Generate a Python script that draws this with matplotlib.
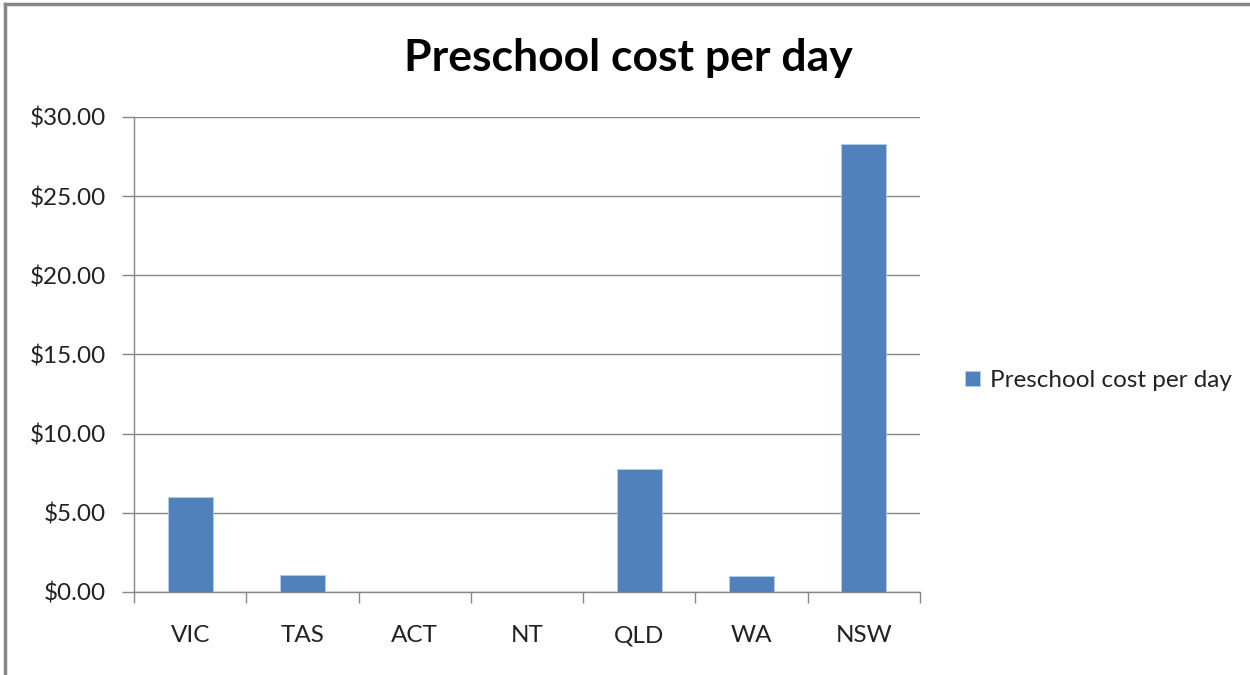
import matplotlib.pyplot as plt
from matplotlib.lines import Line2D
from matplotlib.ticker import FuncFormatter, FixedLocator

plt.rcParams['font.family'] = ['Lato', 'DejaVu Sans']

states = ['VIC', 'TAS', 'ACT', 'NT', 'QLD', 'WA', 'NSW']
cost = [6.00, 1.05, 0.0, 0.0, 7.77, 1.00, 28.28]
yticks = [0, 5, 10, 15, 20, 25, 30]

grey = '#868686'
blue = '#4F81BD'

fig = plt.figure(figsize=(12.5, 6.75), dpi=100)
ax = fig.add_axes([0.1072, 0.1230, 0.736 - 0.1072, 0.8267 - 0.1230])

x = range(len(states))
ax.bar(x, cost, width=0.4, color=blue, edgecolor='#B9CDE5', linewidth=0.6,
       label='Preschool cost per day', zorder=3)

ax.set_xlim(-0.5, len(states) - 0.5)
ax.set_ylim(0, 30)
ax.set_yticks(yticks)
ax.yaxis.set_major_formatter(FuncFormatter(lambda v, p: '${:.2f}'.format(v)))
ax.set_xticks(list(x))
ax.set_xticklabels(states)
ax.xaxis.set_minor_locator(FixedLocator([i - 0.5 for i in range(len(states) + 1)]))

ax.tick_params(axis='x', which='major', length=0, pad=24, labelsize=17.5, colors='#222222')
ax.tick_params(axis='x', which='minor', length=8, width=1, color=grey, direction='out')
ax.tick_params(axis='y', length=9, width=1, color=grey, pad=11, labelsize=17.5, labelcolor='#222222')

ax.grid(axis='y', color=grey, linewidth=1, zorder=0)
for s in ['top', 'right']:
    ax.spines[s].set_visible(False)
for s in ['left', 'bottom']:
    ax.spines[s].set_color(grey)
    ax.spines[s].set_linewidth(1)

fig.text(0.503, 0.914, 'Preschool cost per day', ha='center', va='center',
         fontsize=32, fontweight='bold', color='black')

ax.legend(loc='center left', bbox_to_anchor=(1.03, 0.445), frameon=False,
          fontsize=17.5, handlelength=0.6, handleheight=0.6, handletextpad=0.4,
          labelcolor='#222222')

# outer chart border (top and left edges visible)
fig.add_artist(Line2D([0.004, 0.004], [0, 0.994], color=grey, linewidth=2.5, transform=fig.transFigure))
fig.add_artist(Line2D([0.004, 1], [0.994, 0.994], color=grey, linewidth=2.5, transform=fig.transFigure))

fig.savefig('out.png', dpi=100)
